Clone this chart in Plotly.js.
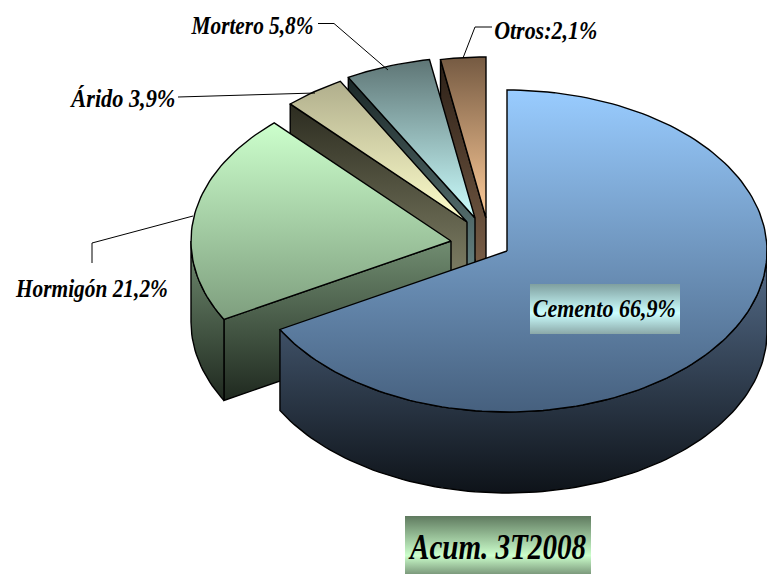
<!DOCTYPE html>
<html>
<head>
<meta charset="utf-8">
<script src="https://cdn.plot.ly/plotly-3.0.1.min.js"></script>
<style>html,body{margin:0;padding:0;background:#fff}#c{width:767px;height:574px}</style>
</head>
<body>
<div id="c"></div>
<script>
// Data: categories, printed percentages and the sector sizes
var categories = ["Cemento", "Hormigón", "Árido", "Mortero", "Otros"];
var printedLabels = ["Cemento 66,9%", "Hormigón 21,2%", "Árido 3,9%", "Mortero 5,8%", "Otros:2,1%"];
var drawnShares = [66.9, 21.2, 3.8, 5.3, 2.8];
var chartTitle = "Acum. 3T2008";

// Geometry of the tilted pie
var radiusX = 260, radiusY = 161, depth = 81;
var apexX = [507, 451, 467, 475, 486];
var apexY = [251, 241, 222, 218, 218];

// Styles
var topColors = [["#99CCFF", "#46607E"], ["#CCFFCC", "#7E9E7E"], ["#B0AE8C", "#FFFFCC"], ["#5E7575", "#CCFFFF"], ["#755A42", "#FFCC99"]];
var wallColors = [["#566E8C", "#0E1319"], ["#718D71", "#1F291F"], ["#2C2C20", "#8A8A6E"], ["#1A2626", "#708F8F"], ["#2C2017", "#85674E"]];
var leaderX = [[193, 92, 92], [178, 315], [318, 334, 388], [492, 475, 463]];
var leaderY = [[216, 243, 263], [97, 93], [23.5, 23.5, 70], [27, 27, 58]];
var labelX = [604.5, 91, 122, 252, 545.5];
var labelY = [308, 288, 98, 25, 30];
var labelSize = [25, 25, 25, 25, 25];
var labelWidth = [143, 152, 104, 122, 103];
var titleSize = 36, titleWidth = 176;

var traces = [];
function pt(i, a) { // a = degrees counter-clockwise from north
  var r = a * Math.PI / 180;
  return [apexX[i] - radiusX * Math.sin(r), apexY[i] - radiusY * Math.cos(r)];
}
function poly(xs, ys, colors, y0, y1) {
  traces.push({
    type: "scatter", mode: "lines", x: xs, y: ys, fill: "toself",
    line: {color: "#000", width: 1.4, shape: "linear"},
    fillgradient: {type: "vertical", start: y0, stop: y1, colorscale: [[0, colors[0]], [1, colors[1]]]},
    hoverinfo: "skip", showlegend: false
  });
}
function arc(i, a0, a1, dy) {
  var n = Math.max(4, Math.ceil(Math.abs(a1 - a0) / 1.5)), xs = [], ys = [];
  for (var k = 0; k <= n; k++) {
    var p = pt(i, a0 + (a1 - a0) * k / n);
    xs.push(p[0]); ys.push(p[1] + dy);
  }
  return [xs, ys];
}
// angular bounds, counter-clockwise from north: Otros, Mortero, Arido, Hormigon, Cemento
var bounds = {}, acc = 0;
[4, 3, 2, 1, 0].forEach(function (i) {
  var s = drawnShares[i] * 3.6;
  bounds[i] = [acc, acc + s];
  acc += s;
});
[4, 3, 2, 1, 0].forEach(function (i) {
  var a0 = bounds[i][0], a1 = bounds[i][1];
  var outer = pt(i, a1);
  // radial wall on the near side
  if (i !== 0) {
    var wallTop = Math.min(outer[1], apexY[i]);
    poly([apexX[i], outer[0], outer[0], apexX[i], apexX[i]],
         [apexY[i], outer[1], outer[1] + depth, apexY[i] + depth, apexY[i]],
         wallColors[i], wallTop, Math.max(outer[1], apexY[i]) + depth);
  }
  // curved wall for the part of the rim that faces the viewer
  var c0 = Math.max(a0, 90), c1 = Math.min(a1, 270);
  if (c1 > c0) {
    var u = arc(i, c0, c1, 0), l = arc(i, c1, c0, depth);
    var yMin = apexY[i];
    var yMax = apexY[i] + radiusY + depth;
    if (i === 1) yMax = pt(1, a1)[1] + depth;
    var wx = u[0].concat(l[0]).concat([u[0][0]]);
    var wy = u[1].concat(l[1]).concat([u[1][0]]);
    poly(wx, wy, wallColors[i], yMin, yMax);
  }
  // top face
  var f = arc(i, a0, a1, 0);
  var fx = [apexX[i]].concat(f[0]).concat([apexX[i]]);
  var fy = [apexY[i]].concat(f[1]).concat([apexY[i]]);
  var ty = Math.min.apply(null, fy), by = Math.max.apply(null, fy);
  poly(fx, fy, topColors[i], ty, by);
});
// Leader lines
leaderX.forEach(function (lx, k) {
  traces.push({type: "scatter", mode: "lines", x: lx, y: leaderY[k], line: {color: "#000", width: 1},
    hoverinfo: "skip", showlegend: false});
});
// Gradient boxes behind the Cemento label and the title
function box(x0, x1, y0, y1, stops) {
  traces.push({type: "scatter", mode: "lines", x: [x0, x1, x1, x0, x0], y: [y0, y0, y1, y1, y0],
    fill: "toself", line: {width: 0, color: "rgba(0,0,0,0)"},
    fillgradient: {type: "vertical", start: y0, stop: y1, colorscale: stops},
    hoverinfo: "skip", showlegend: false});
}
box(530, 680, 284, 334, [[0, "#7F9F9F"], [0.58, "#CCFFFF"], [1, "#8BA8A8"]]);
box(405, 591, 516, 574, [[0, "#5F7A5F"], [0.68, "#CCFFCC"], [1, "#7C9A7C"]]);

var fontBase = {family: "Liberation Serif", color: "#000"};
var annotations = printedLabels.map(function (t, i) {
  return {text: "<b><i>" + t + "</i></b>", x: labelX[i], y: labelY[i], xref: "x", yref: "y",
    showarrow: false, xanchor: "center", yanchor: "middle",
    font: Object.assign({size: labelSize[i]}, fontBase)};
});
annotations.push({text: "<b><i>" + chartTitle + "</i></b>", x: 497, y: 547, xref: "x", yref: "y",
  showarrow: false, xanchor: "center", yanchor: "middle", font: Object.assign({size: titleSize}, fontBase)});

Plotly.newPlot("c", traces, {
  width: 767, height: 574, margin: {l: 0, r: 0, t: 0, b: 0},
  paper_bgcolor: "#fff", plot_bgcolor: "#fff", showlegend: false,
  xaxis: {range: [0, 767], visible: false, fixedrange: true},
  yaxis: {range: [574, 0], visible: false, fixedrange: true},
  annotations: annotations
}, {staticPlot: true, displayModeBar: false}).then(function (gd) {
  var widths = labelWidth.concat([titleWidth]);
  gd.querySelectorAll(".annotation-text").forEach(function (el, i) {
    el.setAttribute("textLength", widths[i]);
    el.setAttribute("lengthAdjust", "spacingAndGlyphs");
  });
});
</script>
</body>
</html>
